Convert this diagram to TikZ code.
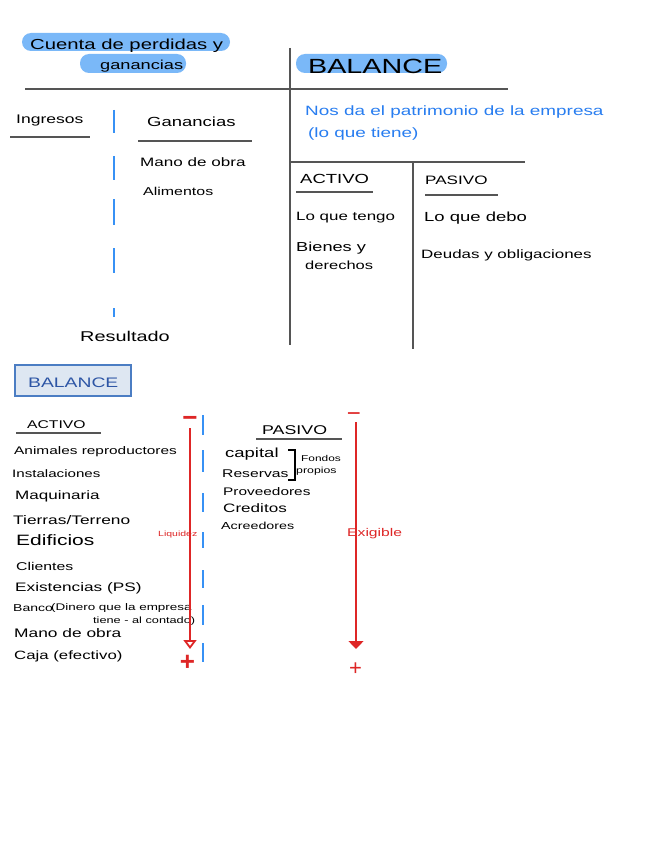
\documentclass[tikz,border=0pt]{standalone}
\usepackage{fontspec}
\setmainfont{Liberation Sans}
\newfontfamily\hand[FakeStretch=1.4]{Liberation Sans}
\usetikzlibrary{arrows.meta}
\definecolor{hl}{RGB}{122,184,248}
\definecolor{bluetxt}{RGB}{40,125,240}
\definecolor{bluedash}{RGB}{55,145,245}
\definecolor{redc}{RGB}{222,38,38}
\definecolor{linec}{RGB}{85,85,85}
\definecolor{boxfill}{RGB}{222,231,242}
\definecolor{boxdraw}{RGB}{75,125,195}
\definecolor{boxtxt}{RGB}{45,85,165}
\newcommand\fsz[1]{\fontsize{#1}{#1}\selectfont}
\begin{document}
\begin{tikzpicture}[x=1pt,y=-1pt,
  txt/.style={anchor=base west, inner sep=0pt, font={\hand\fsz{12.5}}, text=black},
  sz/.style={font={\hand\fsz{#1}}},
  rule/.style={draw=linec, line width=1.8pt},
  uline/.style={draw=linec, line width=1.5pt},
  pill/.style={fill=hl, rounded corners=9pt, inner sep=0pt},
  bdash/.style={draw=bluedash, line width=2pt},
  redline/.style={draw=redc, line width=1.3pt},
  sym/.style={text=redc, inner sep=0pt, font={\fsz{26}\bfseries}},
]
\useasboundingbox[fill=white] (0,0) rectangle (656,848);

% ---------- top left: cuenta de perdidas y ganancias ----------
\node[pill, minimum width=208pt, minimum height=18pt] (p1) at (126,42) {};
\node[pill, minimum width=106pt, minimum height=19pt] (p2) at (133,63.5) {};
\node[txt, sz=14.5] (t1) at (30,50) {Cuenta de perdidas y};
\node[txt, sz=13] (t2) at (100,70) {ganancias};

\draw[rule] (25,89) -- (508,89);
\draw[rule] (290,48) -- (290,345);

\node[txt] (ing) at (16,124) {Ingresos};
\draw[uline] (10,137) -- (90,137);
\node[txt, sz=13.2] (gan) at (147,126) {Ganancias};
\draw[uline] (138,141) -- (252,141);
\node[txt, sz=12.2] (mo1) at (140,166) {Mano de obra};
\node[txt, sz=11.4] (ali) at (143,195) {Alimentos};
\node[txt, sz=14.2] (res) at (80,341) {Resultado};

\foreach \a/\b in {110/133,156/180,199/225,248/273,308/317}
  \draw[bdash] (114,\a) -- (114,\b);

% ---------- top right: balance ----------
\node[pill, minimum width=151pt, minimum height=19pt] (p3) at (371.5,63.5) {};
\node[txt, sz=20.5] (bal1) at (308,74) {BALANCE};
\node[txt, sz=13.5, text=bluetxt] (nos) at (305,116) {Nos da el patrimonio de la empresa};
\node[txt, sz=13.5, text=bluetxt] (tiene) at (308,137) {(lo que tiene)};

\draw[rule] (290,162) -- (525,162);
\draw[rule] (413,162) -- (413,349);

\node[txt, sz=13.2] (act1) at (300,183) {ACTIVO};
\draw[uline] (296,192) -- (373,192);
\node[txt, sz=12.2] (pas1) at (425,184) {PASIVO};
\draw[uline] (425,195) -- (498,195);
\node[txt, sz=12.1] (tengo) at (296,220) {Lo que tengo};
\node[txt, sz=13.2] (debo) at (424,221) {Lo que debo};
\node[txt, sz=13] (bie) at (296,251) {Bienes y};
\node[txt, sz=11.8] (der) at (305,269) {derechos};
\node[txt, sz=12.1] (deu) at (421,258) {Deudas y obligaciones};

% ---------- bottom: balance ----------
\node[draw=boxdraw, fill=boxfill, line width=1.6pt, minimum width=116pt, minimum height=31pt, inner sep=0pt] (bbox) at (73,380.5) {};
\node[txt, sz=13.8, text=boxtxt] (bal2) at (28,387) {BALANCE};

\node[txt, sz=11.2] (act2) at (27,428) {ACTIVO};
\draw[uline] (16,433) -- (101,433);
\node[txt, sz=11] (a1) at (14,454) {Animales reproductores};
\node[txt, sz=10.8] (a2) at (12,477) {Instalaciones};
\node[txt, sz=12.2] (a3) at (15,499) {Maquinaria};
\node[txt, sz=12.4] (a4) at (13,524) {Tierras/Terreno};
\node[txt, sz=15] (a5) at (16,545) {Edificios};
\node[txt, sz=11.3] (a6) at (16,570) {Clientes};
\node[txt, sz=12.3] (a7) at (15,591) {Existencias (PS)};
\node[txt, sz=10] (a8) at (13,611) {Banco};
\node[txt, sz=9.6] (a8b) at (51,610) {(Dinero que la empresa};
\node[txt, sz=9.1] (a8c) at (93,623) {tiene - al contado)};
\node[txt, sz=12.4] (a9) at (14,637) {Mano de obra};
\node[txt, sz=12] (a10) at (14,659) {Caja (efectivo)};

\node[sym] (m1) at (190,421) {−};
\node[sym] (pl1) at (187.5,663) {+};
\coordinate (l1s) at (190,428);
\coordinate (l1e) at (190,649);
\draw[redline, -{Triangle[open, fill=white, width=13pt, length=9pt, line width=1.8pt]}] (l1s) -- (l1e);
\node[txt, sz=7.5, text=redc] (liq) at (158,536) {Liquidez};

\foreach \a/\b in {415/435,450/472,493/512,532/548,570/588,605/625,643/662}
  \draw[bdash] (203,\a) -- (203,\b);

\node[txt, sz=12.7] (pas2) at (262,434) {PASIVO};
\draw[uline] (256,439) -- (342,439);
\node[txt, sz=13.2] (p1t) at (225,457) {capital};
\node[txt, sz=11.2] (p2t) at (222,477) {Reservas};
\draw[draw=black, line width=1.2pt] (288,450) -- (295,450) -- (295,480) -- (288,480);
\node[txt, sz=8.5] (fon) at (301,461) {Fondos};
\node[txt, sz=8.8] (pro) at (296,473) {propios};
\node[txt, sz=11] (p3t) at (223,495) {Proveedores};
\node[txt, sz=12.2] (p4t) at (223,512) {Creditos};
\node[txt, sz=10.2] (p5t) at (221,529) {Acreedores};

\node[sym, font={\fsz{24}}] (m2) at (354,417) {−};
\node[sym, font={\fsz{22}}] (pl2) at (355.5,669) {+};
\coordinate (l2s) at (356,422);
\coordinate (l2e) at (356,649);
\draw[redline, -{Triangle[width=15pt, length=8pt]}] (l2s) -- (l2e);
\node[txt, sz=11.2, text=redc] (exi) at (347,536) {Exigible};
\end{tikzpicture}
\end{document}
